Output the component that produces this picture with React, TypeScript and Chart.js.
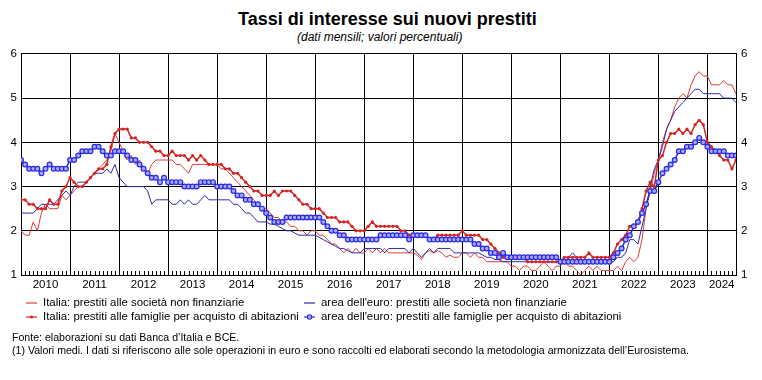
import React, { useEffect, useRef } from "react";
import { Chart, registerables } from "chart.js";

Chart.register(...registerables);

const YEARS = ["2010", "2011", "2012", "2013", "2014", "2015", "2016", "2017", "2018", "2019", "2020", "2021", "2022", "2023", "2024"];
const Y_TICKS = [1, 2, 3, 4, 5, 6];

// Italia: prestiti alle società non finanziarie (monthly, Jan 2010 - Aug 2024)
const itNfc = [
  2.0, 1.9, 1.9, 2.2, 2.0, 2.4, 2.6, 2.5, 2.5, 2.5, 2.8, 2.7,
  2.8, 2.9, 3.0, 3.0, 3.1, 3.2, 3.3, 3.4, 3.5, 3.6, 3.8, 4.2,
  4.0, 3.8, 3.6, 3.7, 3.5, 3.6, 3.4, 3.3, 3.5, 3.6, 3.6, 3.6,
  3.6, 3.6, 3.5, 3.5, 3.4, 3.3, 3.5, 3.5, 3.5, 3.5, 3.5, 3.5,
  3.5, 3.4, 3.4, 3.3, 3.2, 3.1, 3.0, 2.9, 2.8, 2.7, 2.6, 2.5,
  2.5, 2.4, 2.3, 2.3, 2.2, 2.2, 2.1, 2.1, 2.0, 2.0, 1.9, 2.0,
  2.0, 1.9, 1.9, 1.8, 1.7, 1.7, 1.6, 1.5, 1.6, 1.5, 1.6, 1.5,
  1.5, 1.6, 1.5, 1.6, 1.5, 1.6, 1.5, 1.5, 1.5, 1.5, 1.5, 1.5,
  1.5, 1.45, 1.35, 1.5, 1.55, 1.5, 1.55, 1.5, 1.4, 1.45, 1.4, 1.4,
  1.5, 1.5, 1.4, 1.5, 1.4, 1.4, 1.3, 1.3, 1.3, 1.3, 1.3, 1.3,
  1.2, 1.2, 1.1, 1.2, 1.2, 1.1, 1.1, 1.2, 1.3, 1.2, 1.1, 1.2,
  1.2, 1.3, 1.2, 1.2, 1.1, 1.0, 1.1, 1.2, 1.1, 1.2, 1.1, 1.1,
  1.1, 1.1, 1.2, 1.1, 1.3, 1.4, 1.3, 1.4, 1.8, 2.5, 2.9, 3.3,
  3.6, 4.0, 4.3, 4.5, 4.8, 5.0, 5.1, 5.0, 5.3, 5.5, 5.6, 5.5,
  5.5, 5.3, 5.3, 5.3, 5.4, 5.3, 5.3, 5.1,
];

// Italia: prestiti alle famiglie per acquisto di abitazioni
const itHouse = [
  2.7, 2.7, 2.6, 2.6, 2.5, 2.5, 2.5, 2.7, 2.6, 2.6, 2.9, 3.0,
  3.2, 3.1, 3.0, 3.0, 3.1, 3.2, 3.3, 3.4, 3.4, 3.5, 3.9, 4.2,
  4.3, 4.3, 4.3, 4.1, 4.1, 4.0, 4.0, 4.0, 3.9, 3.8, 3.8, 3.7,
  3.7, 3.8, 3.7, 3.7, 3.7, 3.6, 3.7, 3.6, 3.7, 3.6, 3.5, 3.5,
  3.5, 3.5, 3.4, 3.4, 3.3, 3.3, 3.2, 3.1, 3.0, 2.9, 2.9, 2.8,
  2.8, 2.8, 2.9, 2.8, 2.9, 2.9, 2.9, 2.8, 2.7, 2.6, 2.6, 2.5,
  2.5, 2.5, 2.4, 2.3, 2.3, 2.3, 2.2, 2.2, 2.2, 2.1, 2.0, 2.0,
  2.0, 2.1, 2.2, 2.1, 2.1, 2.1, 2.1, 2.1, 2.1, 2.0, 2.0, 1.9,
  1.9, 1.9, 1.9, 1.9, 1.8, 1.8, 1.9, 1.9, 1.9, 1.9, 1.9, 1.9,
  2.0, 1.9, 1.9, 1.9, 1.9, 1.8, 1.8, 1.7, 1.6, 1.5, 1.4, 1.4,
  1.4, 1.4, 1.4, 1.4, 1.3, 1.3, 1.3, 1.3, 1.3, 1.3, 1.3, 1.3,
  1.3, 1.4, 1.4, 1.4, 1.4, 1.4, 1.4, 1.5, 1.4, 1.4, 1.4, 1.4,
  1.4, 1.5, 1.7, 1.8, 1.9, 2.1, 2.1, 2.2, 2.5, 2.9, 3.1, 3.0,
  3.6, 3.7, 4.0, 4.2, 4.2, 4.3, 4.2, 4.3, 4.2, 4.4, 4.5, 4.4,
  4.0, 3.9, 3.8, 3.7, 3.6, 3.6, 3.4, 3.6,
];

// area dell'euro: prestiti alle società non finanziarie
const euNfc = [
  2.4, 2.4, 2.4, 2.4, 2.5, 2.6, 2.6, 2.6, 2.6, 2.7, 2.8, 2.9,
  2.8, 3.0, 3.1, 3.1, 3.1, 3.2, 3.3, 3.3, 3.3, 3.4, 3.3, 3.5,
  3.2, 3.1, 3.0, 3.0, 3.0, 3.0, 3.0, 2.9, 2.6, 2.7, 2.7, 2.7,
  2.7, 2.6, 2.6, 2.7, 2.6, 2.7, 2.6, 2.6, 2.7, 2.8, 2.7, 2.7,
  2.7, 2.7, 2.7, 2.7, 2.6, 2.6, 2.5, 2.4, 2.4, 2.3, 2.2, 2.2,
  2.2, 2.15, 2.15, 2.1, 2.05, 2.0, 2.0, 1.95, 1.9, 1.9, 1.9, 1.9,
  1.9, 1.85, 1.8, 1.75, 1.7, 1.65, 1.6, 1.6, 1.55, 1.5, 1.5, 1.5,
  1.6, 1.6, 1.6, 1.6, 1.6, 1.5, 1.6, 1.6, 1.6, 1.6, 1.6, 1.5,
  1.6, 1.5, 1.4, 1.5, 1.6, 1.5, 1.6, 1.6, 1.6, 1.6, 1.5, 1.5,
  1.5, 1.5, 1.5, 1.5, 1.5, 1.45, 1.4, 1.4, 1.35, 1.35, 1.3, 1.3,
  1.3, 1.3, 1.3, 1.3, 1.3, 1.3, 1.3, 1.3, 1.3, 1.3, 1.3, 1.3,
  1.3, 1.3, 1.4, 1.5, 1.4, 1.3, 1.3, 1.3, 1.3, 1.3, 1.3, 1.3,
  1.3, 1.3, 1.4, 1.4, 1.5, 1.8, 1.8, 1.7, 2.1, 2.5, 3.0, 3.4,
  3.6, 3.9, 4.3, 4.5, 4.7, 4.8, 4.9, 5.0, 5.1, 5.2, 5.2, 5.1,
  5.1, 5.1, 5.1, 5.1, 5.0, 5.0, 5.0, 4.9,
];

// area dell'euro: prestiti alle famiglie per acquisto di abitazioni
const euHouse = [
  3.6, 3.5, 3.4, 3.4, 3.4, 3.3, 3.4, 3.5, 3.4, 3.4, 3.4, 3.4,
  3.6, 3.6, 3.7, 3.8, 3.8, 3.8, 3.9, 3.9, 3.8, 3.7, 3.7, 3.8,
  3.8, 3.8, 3.7, 3.6, 3.6, 3.5, 3.4, 3.3, 3.2, 3.2, 3.1, 3.2,
  3.1, 3.1, 3.1, 3.1, 3.0, 3.0, 3.0, 3.0, 3.1, 3.1, 3.1, 3.1,
  3.0, 3.0, 3.0, 3.0, 2.9, 2.8, 2.8, 2.7, 2.7, 2.6, 2.6, 2.5,
  2.4, 2.3, 2.2, 2.2, 2.2, 2.3, 2.3, 2.3, 2.3, 2.3, 2.3, 2.3,
  2.3, 2.3, 2.2, 2.1, 2.0, 2.0, 1.9, 1.9, 1.8, 1.8, 1.8, 1.8,
  1.8, 1.8, 1.8, 1.8, 1.9, 1.9, 1.9, 1.9, 1.9, 1.9, 1.9, 1.8,
  1.9, 1.9, 1.9, 1.9, 1.8, 1.8, 1.8, 1.8, 1.8, 1.8, 1.8, 1.8,
  1.8, 1.8, 1.8, 1.7, 1.7, 1.6, 1.6, 1.5, 1.5, 1.4, 1.5, 1.4,
  1.4, 1.4, 1.4, 1.4, 1.4, 1.4, 1.4, 1.4, 1.4, 1.4, 1.4, 1.4,
  1.3, 1.3, 1.3, 1.3, 1.3, 1.3, 1.3, 1.3, 1.3, 1.3, 1.3, 1.3,
  1.3, 1.4, 1.5, 1.6, 1.8, 1.9, 2.1, 2.2, 2.4, 2.6, 2.9, 2.9,
  3.1, 3.3, 3.4, 3.5, 3.6, 3.8, 3.8, 3.9, 3.9, 4.0, 4.1, 4.0,
  3.9, 3.8, 3.8, 3.8, 3.8, 3.7, 3.7, 3.7,
];

const SERIES_LABELS = [
  "Italia: prestiti alle società non finanziarie",
  "Italia: prestiti alle famiglie per acquisto di abitazioni",
  "area dell'euro: prestiti alle società non finanziarie",
  "area dell'euro: prestiti alle famiglie per acquisto di abitazioni",
];

const RED_THIN = "#e23a34";
const RED = "#d42424";
const BLUE_THIN = "#2c2ca8";
const BLUE = "#2a2ae0";
const BLUE_FILL = "#a8a8ff";
const FONT = "'Liberation Sans', Arial, Helvetica, sans-serif";

const minorTicks = {
  id: "minorTicks",
  afterDraw(chart: any) {
    const xs = chart.scales.x;
    const area = chart.chartArea;
    const ctx = chart.ctx;
    ctx.save();
    ctx.strokeStyle = "#000";
    ctx.lineWidth = 1;
    ctx.beginPath();
    for (let m = 1; m < itNfc.length; m++) {
      if (m % 12 === 0) continue;
      const px = Math.round(xs.getPixelForValue(m)) + 0.5;
      ctx.moveTo(px, area.bottom);
      ctx.lineTo(px, area.bottom - 4);
    }
    ctx.stroke();
    ctx.restore();
  },
};

export default function App() {
  const ref = useRef<HTMLCanvasElement>(null);

  useEffect(() => {
    if (!ref.current) return;
    const last = itNfc.length - 1;
    const toXY = (arr: number[]) => arr.map((v, i) => ({ x: i, y: v }));
    const gridVals: number[] = [];
    for (let i = 1; i < YEARS.length; i++) gridVals.push(i * 12);
    const labelMap = new Map<number, string>();
    YEARS.forEach((yr, i) => {
      const a = i * 12;
      const b = Math.min(a + 12, last);
      labelMap.set((a + b) / 2, yr);
    });
    const allTicks = [...gridVals, ...Array.from(labelMap.keys())].sort((p, q) => p - q);

    const chart = new Chart(ref.current, {
      type: "line",
      data: {
        datasets: [
          {
            label: SERIES_LABELS[0],
            data: toXY(itNfc),
            borderColor: RED_THIN,
            borderWidth: 1,
            pointRadius: 0,
            order: 3,
          },
          {
            label: SERIES_LABELS[1],
            data: toXY(itHouse),
            borderColor: RED,
            borderWidth: 1.5,
            pointRadius: 1.6,
            pointBorderWidth: 0,
            pointBackgroundColor: RED,
            order: 1,
          },
          {
            label: SERIES_LABELS[2],
            data: toXY(euNfc),
            borderColor: BLUE_THIN,
            borderWidth: 1,
            pointRadius: 0,
            order: 2,
          },
          {
            label: SERIES_LABELS[3],
            data: toXY(euHouse),
            borderColor: BLUE,
            borderWidth: 1.5,
            pointRadius: 2.4,
            pointBorderWidth: 1.2,
            pointBorderColor: BLUE,
            pointBackgroundColor: BLUE_FILL,
            order: 0,
          },
        ] as any,
      },
      options: {
        responsive: false,
        animation: false,
        devicePixelRatio: 1,
        layout: { padding: { top: 8, left: 0, right: 0, bottom: 0 } },
        plugins: { legend: { display: false }, tooltip: { enabled: false }, title: { display: false } },
        elements: { line: { tension: 0 } },
        scales: {
          x: {
            type: "linear",
            min: 0,
            max: last,
            afterBuildTicks: (axis: any) => {
              axis.ticks = allTicks.map((v) => ({ value: v }));
            },
            afterFit: (axis: any) => {
              axis.height = 22;
            },
            ticks: {
              autoSkip: false,
              maxRotation: 0,
              padding: 3,
              color: "#000",
              font: { family: FONT, size: 11.5 },
              callback: (v: any) => labelMap.get(Number(v)) || "",
            },
            grid: {
              drawTicks: false,
              lineWidth: 1,
              color: (c: any) => (c.tick && c.tick.value % 12 === 0 ? "#000" : "rgba(0,0,0,0)"),
            },
            border: { display: true, color: "#000", width: 1 },
          },
          y: {
            type: "linear",
            position: "left",
            min: 1,
            max: 6,
            afterBuildTicks: (axis: any) => {
              axis.ticks = Y_TICKS.map((v) => ({ value: v }));
            },
            afterFit: (axis: any) => {
              axis.width = 21;
            },
            ticks: { color: "#000", padding: 4, font: { family: FONT, size: 11.5 } },
            grid: { color: "#000", lineWidth: 1, drawTicks: false },
            border: { display: true, color: "#000", width: 1 },
          },
          y2: {
            type: "linear",
            position: "right",
            min: 1,
            max: 6,
            afterBuildTicks: (axis: any) => {
              axis.ticks = Y_TICKS.map((v) => ({ value: v }));
            },
            afterFit: (axis: any) => {
              axis.width = 26;
            },
            ticks: { color: "#000", padding: 5, font: { family: FONT, size: 11.5 } },
            grid: { display: false, drawTicks: false },
            border: { display: true, color: "#000", width: 1 },
          },
        },
      } as any,
      plugins: [minorTicks],
    });
    return () => chart.destroy();
  }, []);

  const legendText: React.CSSProperties = {
    position: "absolute",
    fontFamily: FONT,
    fontSize: "11.4px",
    lineHeight: "13px",
    whiteSpace: "nowrap",
    color: "#000",
  };
  const noteText: React.CSSProperties = {
    position: "absolute",
    left: 12,
    fontFamily: FONT,
    fontSize: "10.6px",
    lineHeight: "12px",
    whiteSpace: "nowrap",
    color: "#000",
  };
  const sample = (left: number, top: number, color: string, marker: "none" | "dot" | "circle") => (
    <svg style={{ position: "absolute", left, top }} width={12} height={8}>
      <line x1={0} y1={4} x2={11} y2={4} stroke={color} strokeWidth={1.2} />
      {marker === "dot" && <circle cx={5.5} cy={4} r={1.6} fill={color} />}
      {marker === "circle" && <circle cx={5.5} cy={4} r={2.2} fill={BLUE_FILL} stroke={color} strokeWidth={1.1} />}
    </svg>
  );

  return (
    <div
      style={{
        position: "absolute",
        left: 0,
        top: 0,
        width: 762,
        height: 380,
        background: "#fff",
        overflow: "hidden",
        fontFamily: FONT,
      }}
    >
      <div
        style={{
          position: "absolute",
          left: 238,
          top: 10,
          fontSize: "18px",
          lineHeight: "18px",
          fontWeight: "bold",
          whiteSpace: "nowrap",
          color: "#000",
        }}
      >
        Tassi di interesse sui nuovi prestiti
      </div>
      <div
        style={{
          position: "absolute",
          left: 297,
          top: 31,
          fontSize: "12px",
          lineHeight: "12px",
          fontStyle: "italic",
          whiteSpace: "nowrap",
          color: "#000",
        }}
      >
        (dati mensili; valori percentuali)
      </div>
      <canvas
        ref={ref}
        width={762}
        height={255}
        style={{ position: "absolute", left: 0, top: 42, width: 762, height: 255 }}
      />
      {sample(26, 299, RED_THIN, "none")}
      <div style={{ ...legendText, left: 43, top: 296 }}>{SERIES_LABELS[0]}</div>
      {sample(26, 313, RED, "dot")}
      <div style={{ ...legendText, left: 43, top: 310 }}>{SERIES_LABELS[1]}</div>
      {sample(304, 299, BLUE_THIN, "none")}
      <div style={{ ...legendText, left: 321, top: 296 }}>{SERIES_LABELS[2]}</div>
      {sample(304, 313, BLUE, "circle")}
      <div style={{ ...legendText, left: 321, top: 310 }}>{SERIES_LABELS[3]}</div>
      <div style={{ ...noteText, top: 330.5 }}>Fonte: elaborazioni su dati Banca d’Italia e BCE.</div>
      <div style={{ ...noteText, top: 344 }}>
        (1) Valori medi. I dati si riferiscono alle sole operazioni in euro e sono raccolti ed elaborati secondo la
        metodologia armonizzata dell’Eurosistema.
      </div>
    </div>
  );
}
